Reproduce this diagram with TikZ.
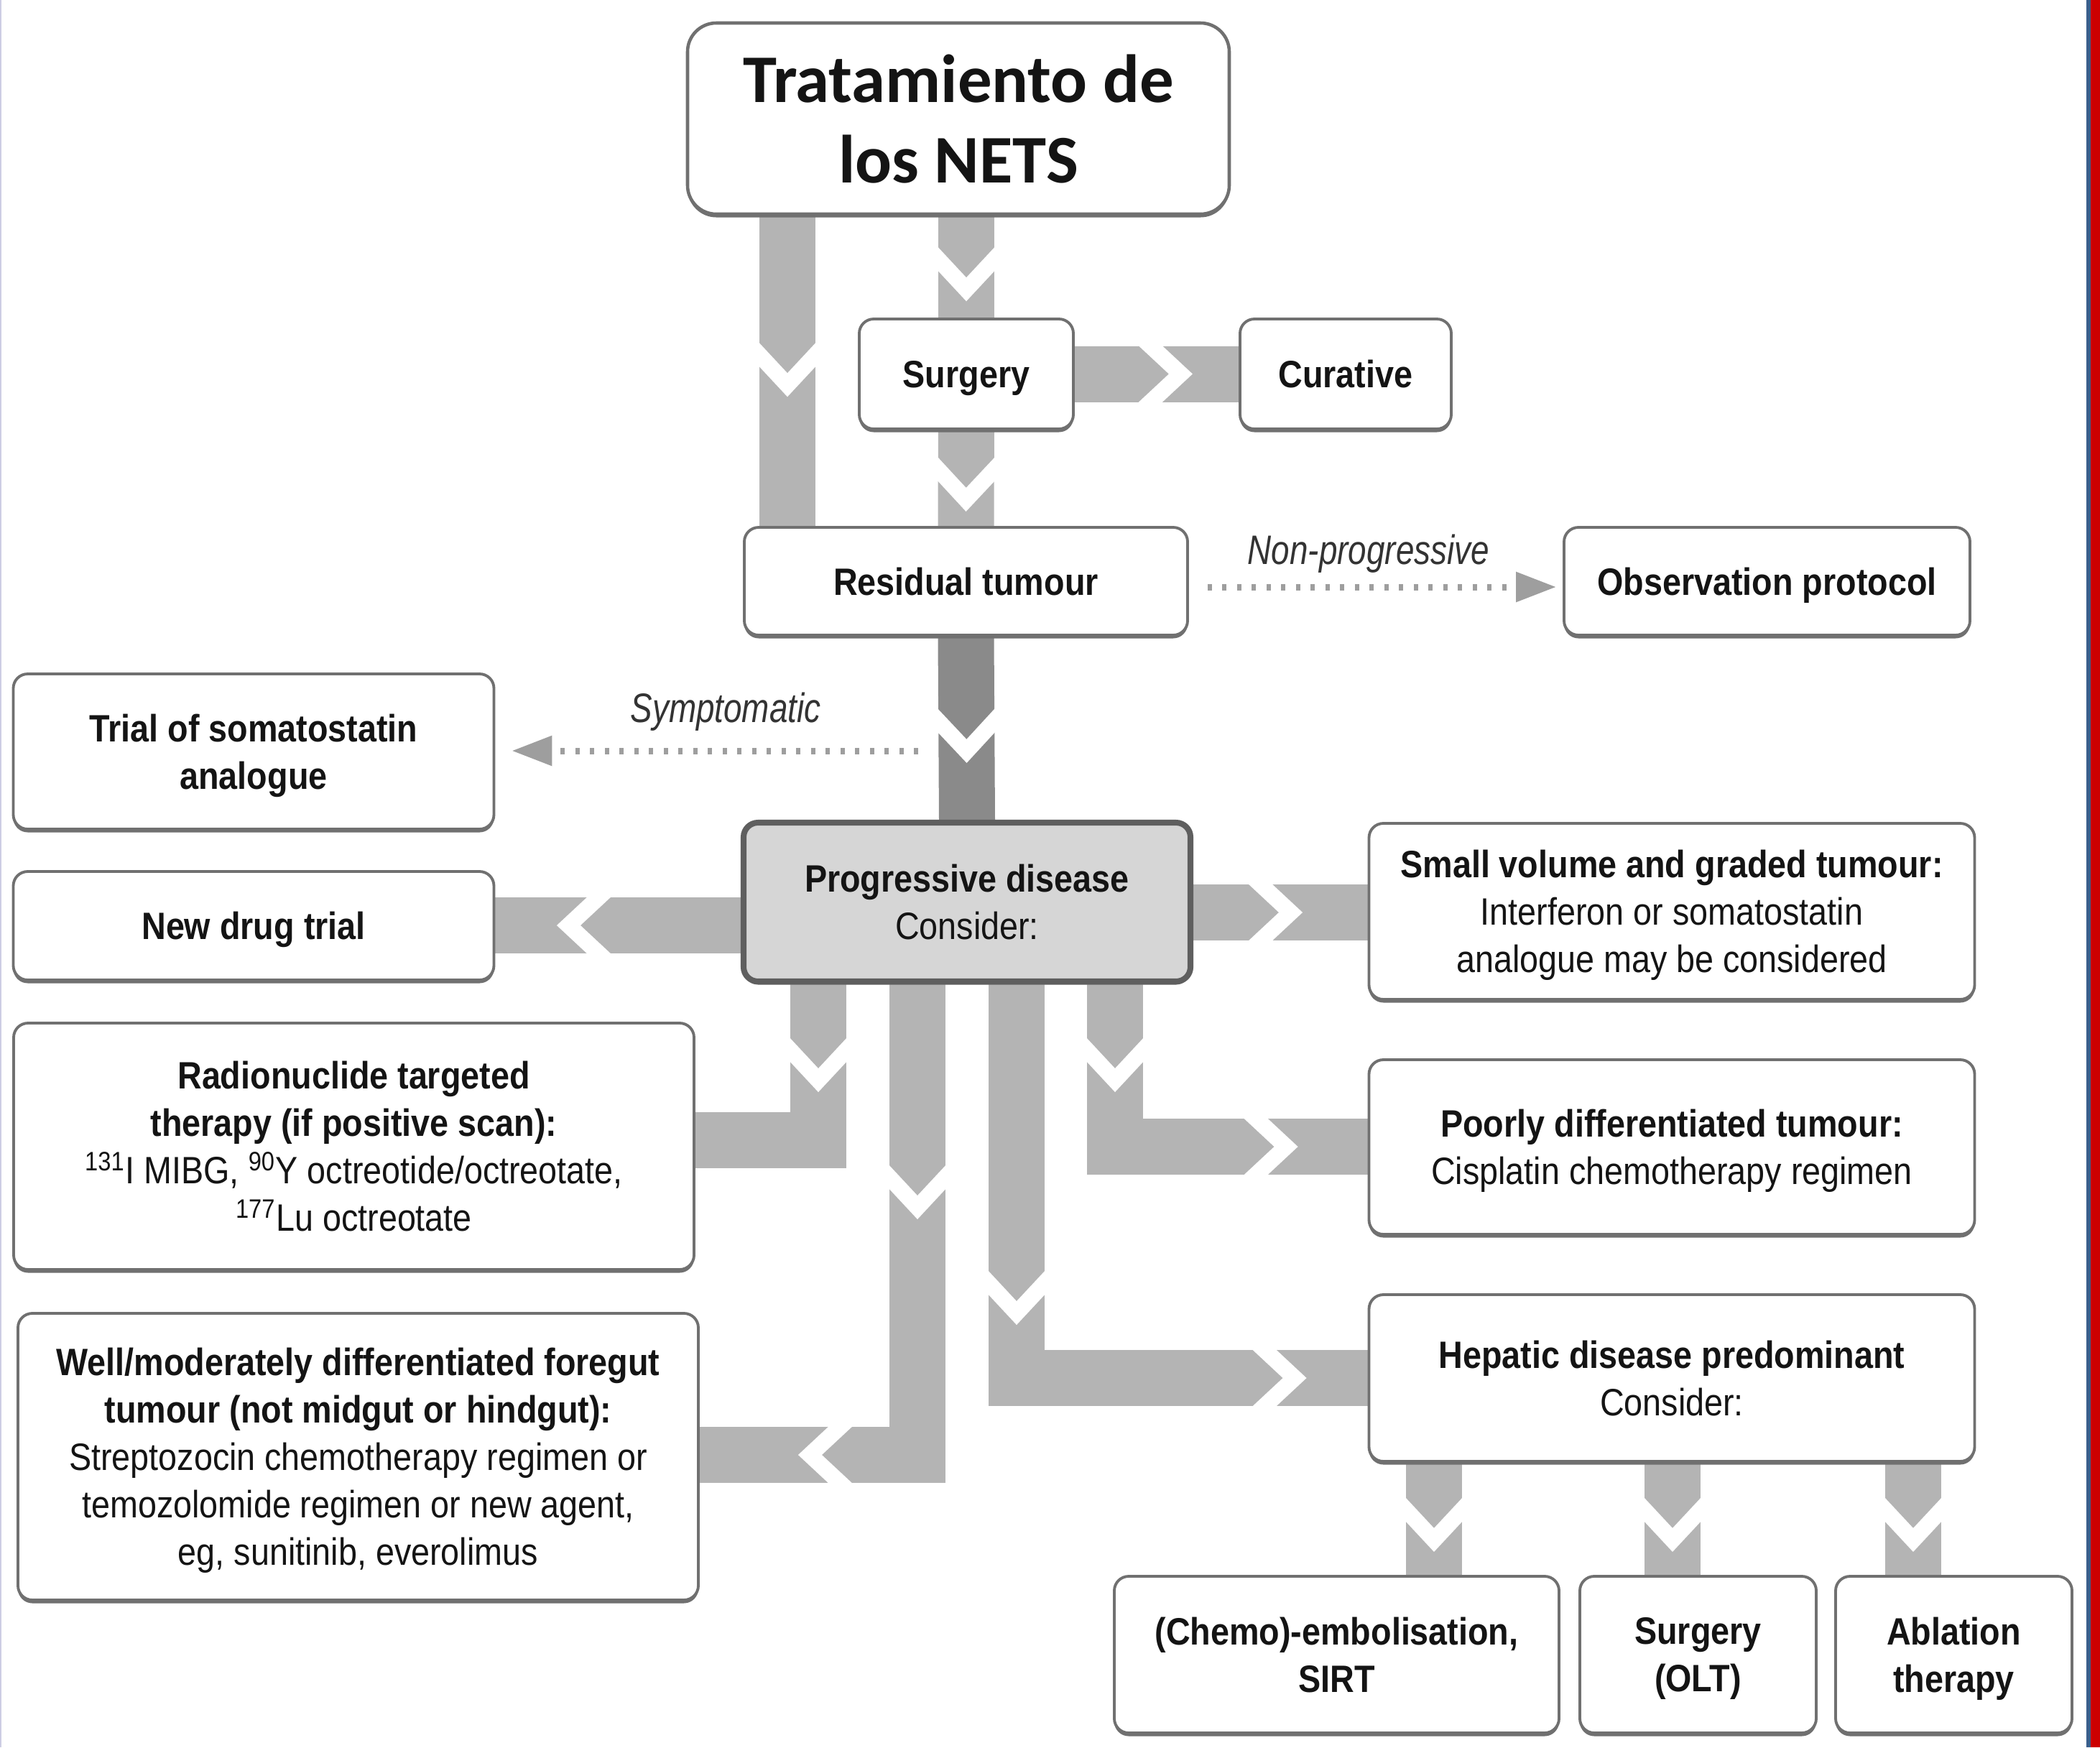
\documentclass[tikz,border=0pt]{standalone}
\usepackage{fontspec}
\setmainfont{Liberation Sans}[FakeStretch=0.88]
\newfontfamily\labfont{Liberation Sans}[FakeStretch=0.80]
\newfontfamily\titlefont{Carlito}
\usetikzlibrary{decorations.markings,arrows.meta,shadows}
\pgfdeclarelayer{bg}
\pgfsetlayers{bg,main}
\newcommand\bdsz{\fontsize{15.1pt}{18.8pt}\selectfont}
\definecolor{bandc}{RGB}{180,180,180}
\definecolor{bandd}{RGB}{138,138,138}
\definecolor{boxline}{RGB}{112,112,112}
\definecolor{progfill}{RGB}{214,214,214}
\definecolor{dotc}{RGB}{158,158,158}
\definecolor{redstripe}{RGB}{204,0,0}
\definecolor{bluestripe}{RGB}{58,95,140}
\definecolor{leftline}{RGB}{205,205,228}
\tikzset{
  box/.style={draw=boxline, line width=1.1pt, rounded corners=0.2cm, fill=white,
    align=center, inner sep=0pt, font=\bdsz, text=black!92, text depth=0pt,
    general shadow={shadow yshift=-0.045cm, fill=boxline}},
  band/.style={draw=bandc, line width=0.78cm, line join=miter, line cap=butt},
  dband/.style={band, draw=bandd},
  chev/.style={postaction={decorate, decoration={markings, mark=at position #1 with
    {\fill[white] (0,0.41) -- (0.44,0) -- (0,-0.41) -- (0.33,-0.41) -- (0.77,0) -- (0.33,0.41) -- cycle;}}}},
  dotarrow/.style={draw=dotc, line width=0.09cm, dash pattern=on 0.06cm off 0.145cm,
    -{Triangle[length=0.56cm, width=0.40cm, fill=dotc]}},
  lab/.style={font=\labfont\itshape\fontsize{16.3pt}{19pt}\selectfont, text=black!80, inner sep=0pt}
}
\begin{document}
\begin{tikzpicture}
\useasboundingbox (0,0) rectangle (29.23,-24.32);

% nodes
\node[box, rounded corners=0.4cm, line width=1.3pt, minimum width=7.54cm, minimum height=2.66cm,
  font=\titlefont\bfseries\fontsize{27pt}{31.9pt}\selectfont] (title) at (13.34,-1.65) {Tratamiento de\\los NETS};
\node[box, minimum width=2.98cm, minimum height=1.53cm] (surgery) at (13.45,-5.205) {\textbf{Surgery}};
\node[box, minimum width=2.94cm, minimum height=1.53cm] (curative) at (18.73,-5.205) {\textbf{Curative}};
\node[box, minimum width=6.17cm, minimum height=1.50cm] (residual) at (13.445,-8.09) {\textbf{Residual tumour}};
\node[box, minimum width=5.65cm, minimum height=1.50cm] (observation) at (24.595,-8.09) {\textbf{Observation protocol}};
\node[box, minimum width=6.69cm, minimum height=2.16cm] (trial) at (3.53,-10.46) {\textbf{Trial of somatostatin}\\\textbf{analogue}};
\node[box, minimum width=6.69cm, minimum height=1.51cm] (newdrug) at (3.53,-12.885) {\textbf{New drug trial}};
\node[box, fill=progfill, draw=boxline!85!black, line width=2.3pt, minimum width=6.22cm, minimum height=2.21cm] (progressive) at (13.46,-12.555) {\textbf{Progressive disease}\\Consider:};
\node[box, minimum width=8.43cm, minimum height=2.45cm] (smallvol) at (23.27,-12.685) {\textbf{Small volume and graded tumour:}\\Interferon or somatostatin\\analogue may be considered};
\node[box, minimum width=9.47cm, minimum height=3.43cm] (radio) at (4.925,-15.955) {\textbf{Radionuclide targeted}\\\textbf{therapy (if positive scan):}\\\textsuperscript{131}I MIBG, \textsuperscript{90}Y octreotide/octreotate,\\\textsuperscript{177}Lu octreotate};
\node[box, minimum width=8.43cm, minimum height=2.43cm] (poorly) at (23.27,-15.965) {\textbf{Poorly differentiated tumour:}\\Cisplatin chemotherapy regimen};
\node[box, minimum width=9.47cm, minimum height=3.99cm] (well) at (4.985,-20.275) {\textbf{Well/moderately differentiated foregut}\\\textbf{tumour (not midgut or hindgut):}\\Streptozocin chemotherapy regimen or\\temozolomide regimen or new agent,\\eg, sunitinib, everolimus};
\node[box, minimum width=8.43cm, minimum height=2.32cm] (hepatic) at (23.27,-19.18) {\textbf{Hepatic disease predominant}\\Consider:};
\node[box, minimum width=6.19cm, minimum height=2.18cm] (chemo) at (18.605,-23.03) {\textbf{(Chemo)-embolisation,}\\\textbf{SIRT}};
\node[box, minimum width=3.29cm, minimum height=2.18cm] (olt) at (23.635,-23.03) {\textbf{Surgery}\\\textbf{(OLT)}};
\node[box, minimum width=3.29cm, minimum height=2.18cm] (ablation) at (27.195,-23.03) {\textbf{Ablation}\\\textbf{therapy}};

% labels
\node[lab, anchor=base] (symlab) at (10.10,-10.05) {Symptomatic};
\node[lab, anchor=base] (nplab) at (19.05,-7.85) {Non-progressive};

% helper coordinates
\coordinate (xC) at (10.96,0);
\coordinate (yF) at (0,-12.88);
\coordinate (yG) at (0,-12.70);
\coordinate (xH) at (11.39,0);
\coordinate (yH) at (0,-15.87);
\coordinate (xI) at (12.77,0);
\coordinate (yI) at (0,-20.25);
\coordinate (xJ) at (14.15,0);
\coordinate (yJ) at (0,-19.18);
\coordinate (xK) at (15.52,0);
\coordinate (yK) at (0,-15.96);
\coordinate (xL1) at (19.96,0);
\coordinate (xL2) at (23.28,0);
\coordinate (xL3) at (26.63,0);
\coordinate (symstart) at (12.78,-10.45);
\coordinate (npy) at (0,-8.17);

\begin{pgfonlayer}{bg}
\fill[white] (0,0) rectangle (29.23,-24.32);
\fill[leftline] (0,0) rectangle (0.025,-24.32);
\fill[bluestripe] (29.04,0) rectangle (29.10,-24.32);
\fill[redstripe] (29.10,0) rectangle (29.23,-24.32);

\draw[band, chev=0.42cm] (surgery.north |- title.south) -- (surgery.north);
\draw[band, chev=0.36cm] (surgery.south) -- (residual.north);
\draw[band, chev=1.75cm] (title.south -| xC) -- (residual.north -| xC);
\draw[band, chev=0.87cm] (surgery.east) -- (curative.west);
\draw[dband, chev=0.99cm] (residual.south) -- (progressive.north);
\draw[band, chev=1.79cm] (progressive.west |- yF) -- (newdrug.east |- yF);
\draw[band, chev=0.75cm] (progressive.east |- yG) -- (smallvol.west |- yG);
\draw[band, chev=0.73cm] (progressive.south -| xH) |- (radio.east |- yH);
\draw[band, chev=2.50cm, chev=-2.14cm] (progressive.south -| xI) |- (well.east |- yI);
\draw[band, chev=3.97cm, chev=-1.62cm] (progressive.south -| xJ) |- (hepatic.west |- yJ);
\draw[band, chev=0.73cm, chev=-1.74cm] (progressive.south -| xK) |- (poorly.west |- yK);
\draw[band, chev=0.47cm] (hepatic.south -| xL1) -- (chemo.north -| xL1);
\draw[band, chev=0.47cm] (hepatic.south -| xL2) -- (olt.north -| xL2);
\draw[band, chev=0.47cm] (hepatic.south -| xL3) -- (ablation.north -| xL3);
\end{pgfonlayer}

\draw[dotarrow, shorten >=0.23cm] (symstart) -- (trial.east |- symstart);
\draw[dotarrow, shorten <=0.26cm, shorten >=0.09cm] (residual.east |- npy) -- (observation.west |- npy);
\end{tikzpicture}
\end{document}
